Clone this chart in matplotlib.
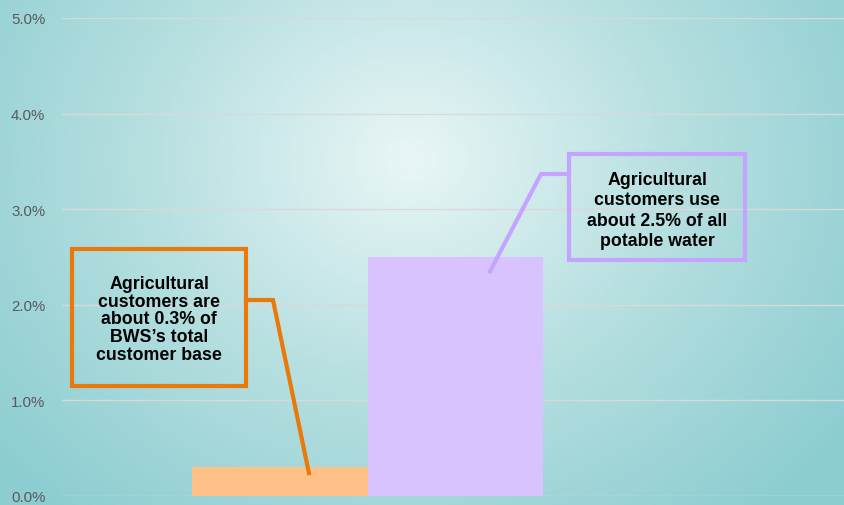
import numpy as np
import matplotlib
matplotlib.use("Agg")
import matplotlib.pyplot as plt
from matplotlib.patches import Rectangle
from matplotlib.lines import Line2D
from matplotlib.colors import LinearSegmentedColormap

plt.rcParams['font.family'] = ['Liberation Sans', 'DejaVu Sans']

# Data
categories = ["Share of customers", "Share of potable water use"]
values = [0.3, 2.5]
bar_colors = ["#ffc187", "#d8c3ff"]
yticks = [0.0, 1.0, 2.0, 3.0, 4.0, 5.0]
ytick_labels = ["0.0%", "1.0%", "2.0%", "3.0%", "4.0%", "5.0%"]
callout_texts = ["Agricultural\ncustomers are\nabout 0.3% of\nBWS\u2019s total\ncustomer base",
                 "Agricultural\ncustomers use\nabout 2.5% of all\npotable water"]
callout_colors = ["#e8790a", "#c4a4ff"]

W, H = 844, 506
fig = plt.figure(figsize=(W / 100, H / 100), dpi=100)

# Background radial gradient
bg = fig.add_axes([0, 0, 1, 1], zorder=-10)
yy, xx = np.mgrid[0:H, 0:W]
cx, cy = 410, 160
r = np.sqrt(((xx - cx) / 540.0) ** 2 + ((yy - cy) / 470.0) ** 2)
r = np.clip(r, 0, 1)
cmap = LinearSegmentedColormap.from_list("bg", ["#e9f6f6", "#b6dfe0", "#8ccdd1"])
bg.imshow(r, cmap=cmap, aspect='auto', extent=[0, W, H, 0], vmin=0, vmax=1)
bg.axis('off')

ax = fig.add_axes([62 / W, 9 / H, (W - 62) / W, 478 / H])
ax.patch.set_alpha(0)
x = np.arange(len(values))
ax.bar(x, values, width=1.0, color=bar_colors, zorder=3)
ax.set_xlim(-1.242, 3.214)
ax.set_ylim(0, 5)
ax.set_yticks(yticks)
ax.set_yticklabels(ytick_labels, color="#595959", fontsize=10.8)
ax.yaxis.grid(True, color="#d9d9d9", linewidth=1.0, zorder=0)
ax.set_axisbelow(True)
ax.set_xticks([])
ax.tick_params(axis='y', length=0, pad=12)
for s in ax.spines.values():
    s.set_visible(False)

# Callouts (boxes in figure pixels, tips at data points)
boxes = [(72, 250, 246, 387), (569, 155, 745, 261)]
text_centers = [(159, 320), (657, 211)]
spacings = [1.05, 1.28]
knees = [[(246, 301), (273, 301)], [(569, 175), (541, 175)]]
tips = [(0.165, 0.24), (1.197, 2.35)]

fig.canvas.draw()
for i in range(2):
    x0, y0, x1, y1 = boxes[i]
    rect = Rectangle((x0 / W, 1 - y1 / H), (x1 - x0) / W, (y1 - y0) / H,
                     transform=fig.transFigure, fill=False,
                     edgecolor=callout_colors[i], linewidth=3, zorder=5)
    fig.add_artist(rect)
    tcx, tcy = text_centers[i]
    fig.text(tcx / W, 1 - tcy / H, callout_texts[i],
             ha='center', va='center', fontsize=12.8, fontweight='bold',
             color='black', linespacing=spacings[i], zorder=6)
    tx, ty = ax.transData.transform(tips[i])
    pts = [(px / W, 1 - py / H) for px, py in knees[i]] + [(tx / W, ty / H)]
    line = Line2D([p[0] for p in pts], [p[1] for p in pts],
                  transform=fig.transFigure, color=callout_colors[i],
                  linewidth=3, zorder=5, solid_joinstyle='miter')
    fig.add_artist(line)

fig.savefig("out.png", dpi=100)
